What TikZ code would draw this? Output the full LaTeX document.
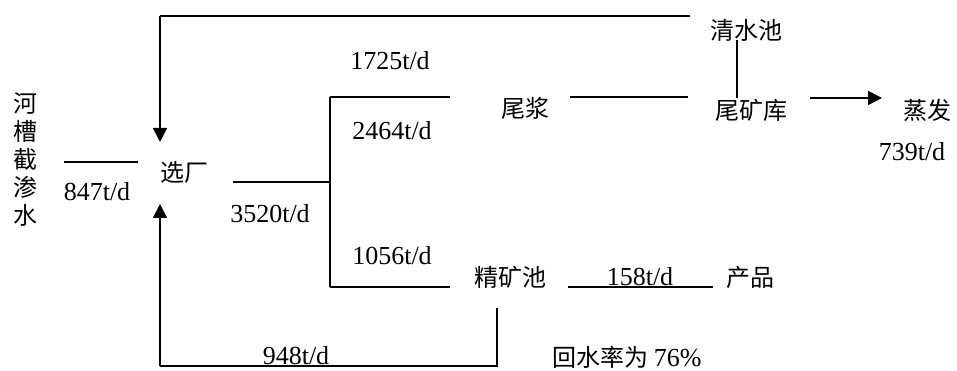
\documentclass[tikz,border=0pt]{standalone}
\usepackage{fontspec}
\setmainfont{Liberation Serif}
\newfontfamily\cjk{Noto Sans CJK SC}
\usetikzlibrary{arrows.meta}
\begin{document}
\begin{tikzpicture}[x=1pt,y=-1pt,
  lbl/.style={inner sep=0pt,font=\fontsize{26}{28}\selectfont},
  cj/.style={inner sep=0pt,font=\fontsize{24}{28}\selectfont\cjk},
  ln/.style={line width=1.6pt},
  thk/.style={line width=2.6pt},
  arr/.style={-{Triangle[length=14pt,width=14pt]}}]
\useasboundingbox[fill=white] (0,0) rectangle (957,371);
% nodes
\node[cj,align=center] (river) at (25,160) {河\\槽\\截\\渗\\水};
\node[cj] (xc) at (184,172) {选厂};
\node[cj] (qsc) at (746,30) {清水池};
\node[cj] (wj) at (525,108) {尾浆};
\node[cj] (wkk) at (751,110) {尾矿库};
\node[cj] (zf) at (927,110) {蒸发};
\node[cj] (jkc) at (510,277) {精矿池};
\node[cj] (cp) at (750,277) {产品};
\node[cj] (hsl) at (627,357) {回水率为 {\rmfamily\fontsize{26}{28}\selectfont 76\%}};
% labels
\node[lbl] (l1725) at (390,61) {1725t/d};
\node[lbl] (l2464) at (392,131) {2464t/d};
\node[lbl] (l3520) at (270,214) {3520t/d};
\node[lbl] (l1056) at (392,256) {1056t/d};
\node[lbl] (l847) at (97,192) {847t/d};
\node[lbl] (l739) at (912,152) {739t/d};
\node[lbl] (l948) at (296,356) {948t/d};
\node[lbl] (l158) at (640,277) {158t/d};
% coordinates
\coordinate (t1) at (690,16);
\coordinate (t2) at (160,16);
\coordinate (xcin1) at (160,142);
\coordinate (xcin2) at (160,204);
\coordinate (q1) at (737,40);
\coordinate (q2) at (737,98);
\coordinate (r1) at (64,162);
\coordinate (r2) at (138,162);
\coordinate (s0) at (233,182);
\coordinate (s1) at (330,182);
\coordinate (sa) at (330,97);
\coordinate (sb) at (330,287);
\coordinate (wja) at (450,97);
\coordinate (wjb) at (570,97);
\coordinate (wkka) at (688,97);
\coordinate (jka) at (450,287);
\coordinate (jkb) at (568,287);
\coordinate (cpa) at (713,287);
\coordinate (e1) at (810,98);
\coordinate (e2) at (882,98);
\coordinate (b1) at (497,308);
\coordinate (b2) at (497,366);
\coordinate (b3) at (160,366);
% connectors
\draw[thk] (t1) -- (t2);
\draw[ln,arr] (t2) -- (xcin1);
\draw[thk] (q1) -- (q2);
\draw[ln] (r1) -- (r2);
\draw[ln] (s0) -- (s1);
\draw[thk] (sa) -- (sb);
\draw[ln] (sa) -- (wja);
\draw[thk] (wjb) -- (wkka);
\draw[ln] (sb) -- (jka);
\draw[thk] (jkb) -- (cpa);
\draw[ln,arr] (e1) -- (e2);
\draw[thk] (b1) -- (b2) -- (b3);
\draw[ln,arr] (b3) -- (xcin2);
\end{tikzpicture}
\end{document}
